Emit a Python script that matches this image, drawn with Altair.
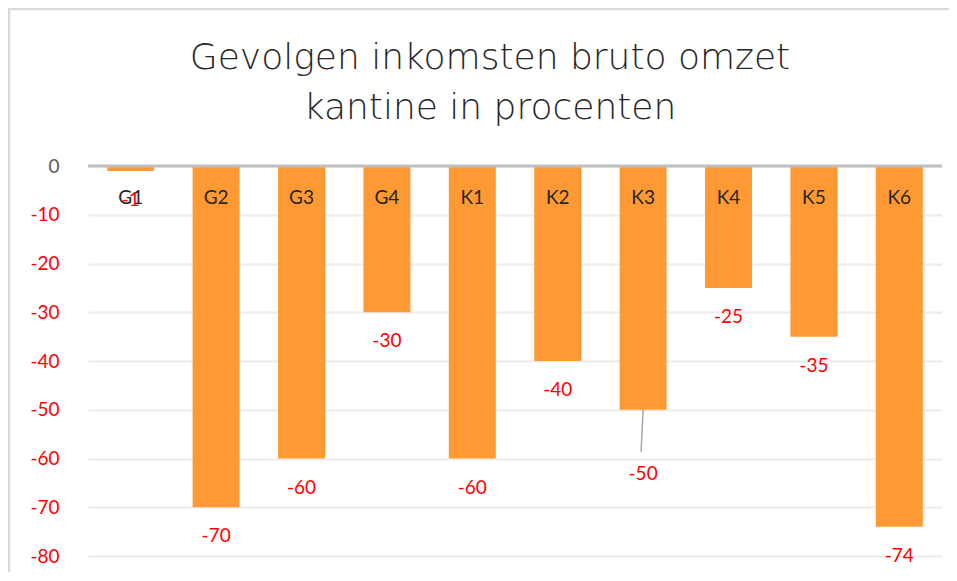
import altair as alt
import pandas as pd

categories = ["G1", "G2", "G3", "G4", "K1", "K2", "K3", "K4", "K5", "K6"]
values = [-1, -70, -60, -30, -60, -40, -50, -25, -35, -74]
y_ticks = [0, -10, -20, -30, -40, -50, -60, -70, -80]
title_lines = ["Gevolgen inkomsten bruto omzet", "kantine in procenten"]
leader_categories = ["K3"]

df = pd.DataFrame({"cat": categories, "val": values})
df["lbl"] = df["val"].astype(str)
df["leader"] = df["cat"].isin(leader_categories)

FONT = "Lato"
x_enc = alt.X("cat:N", sort=categories, axis=None,
              scale=alt.Scale(paddingInner=0.45, paddingOuter=0.225))
y_scale = alt.Scale(domain=[-80, 0], nice=False, zero=True)

base = alt.Chart(df)
one = base.transform_filter(alt.datum.cat == categories[0])

frame_top = one.mark_rule(stroke="#d9d9d9", strokeWidth=2.5, clip=False).encode(
    x=alt.value(-80), x2=alt.value(861), y=alt.value(-157)
)
frame_left = one.mark_rule(stroke="#d9d9d9", strokeWidth=2.5, clip=False).encode(
    x=alt.value(-79), y=alt.value(-158), y2=alt.value(406)
)

title_df = pd.DataFrame({"line": title_lines, "i": list(range(len(title_lines)))})
title_marks = [
    alt.Chart(title_df).transform_filter(alt.datum.i == k).mark_text(
        font="DejaVu Sans", fontWeight=200, fontSize=36, color="#262626",
        baseline="alphabetic", align="center", clip=False
    ).encode(text="line:N", x=alt.value(402), y=alt.value(-97 + 50 * k))
    for k in range(len(title_lines))
]

bars = base.mark_bar(color="#FF9933").encode(
    x=x_enc,
    y=alt.Y("val:Q", scale=y_scale,
            axis=alt.Axis(values=y_ticks, title=None, ticks=False, domain=False,
                          labelFontSize=19, labelFont=FONT, labelPadding=29,
                          labelExpr="toString(datum.value)",
                          labelColor=alt.condition(alt.datum.value == 0, alt.value("#595959"), alt.value("#FF0000")),
                          gridColor="#ececec", gridWidth=2)),
)

zero_line = alt.Chart(pd.DataFrame({"z": [0]})).mark_rule(color="#bfbfbf", strokeWidth=3).encode(
    y=alt.Y("z:Q", scale=y_scale)
)

cat_labels = base.mark_text(font=FONT, fontSize=19, color="#262626", baseline="middle", dy=32).encode(
    x=x_enc, y=alt.datum(0), text="cat:N"
)

val_labels = base.transform_filter(~alt.datum.leader).mark_text(
    font=FONT, fontSize=19, color="#FF0000", baseline="middle", dy=29
).encode(x=x_enc, y=alt.Y("val:Q", scale=y_scale), text="lbl:N")

val_labels_far = base.transform_filter(alt.datum.leader).mark_text(
    font=FONT, fontSize=19, color="#FF0000", baseline="middle", dy=64
).encode(x=x_enc, y=alt.Y("val:Q", scale=y_scale), text="lbl:N")

leader = base.transform_filter(alt.datum.leader).mark_rule(
    color="#a6a6a6", strokeWidth=1.5, y2Offset=42, x2Offset=-2
).encode(x=x_enc, x2="cat:N", y=alt.Y("val:Q", scale=y_scale), y2="val:Q")

chart = alt.layer(frame_top, frame_left, *title_marks, bars, zero_line, cat_labels,
                  val_labels, val_labels_far, leader).properties(
    width=854, height=390,
    autosize=alt.AutoSizeParams(type="none"),
    padding={"left": 80, "top": 158, "right": 7, "bottom": 16},
).configure_view(stroke=None)

chart.save("out.html", embed_options={"renderer": "svg", "actions": False})
